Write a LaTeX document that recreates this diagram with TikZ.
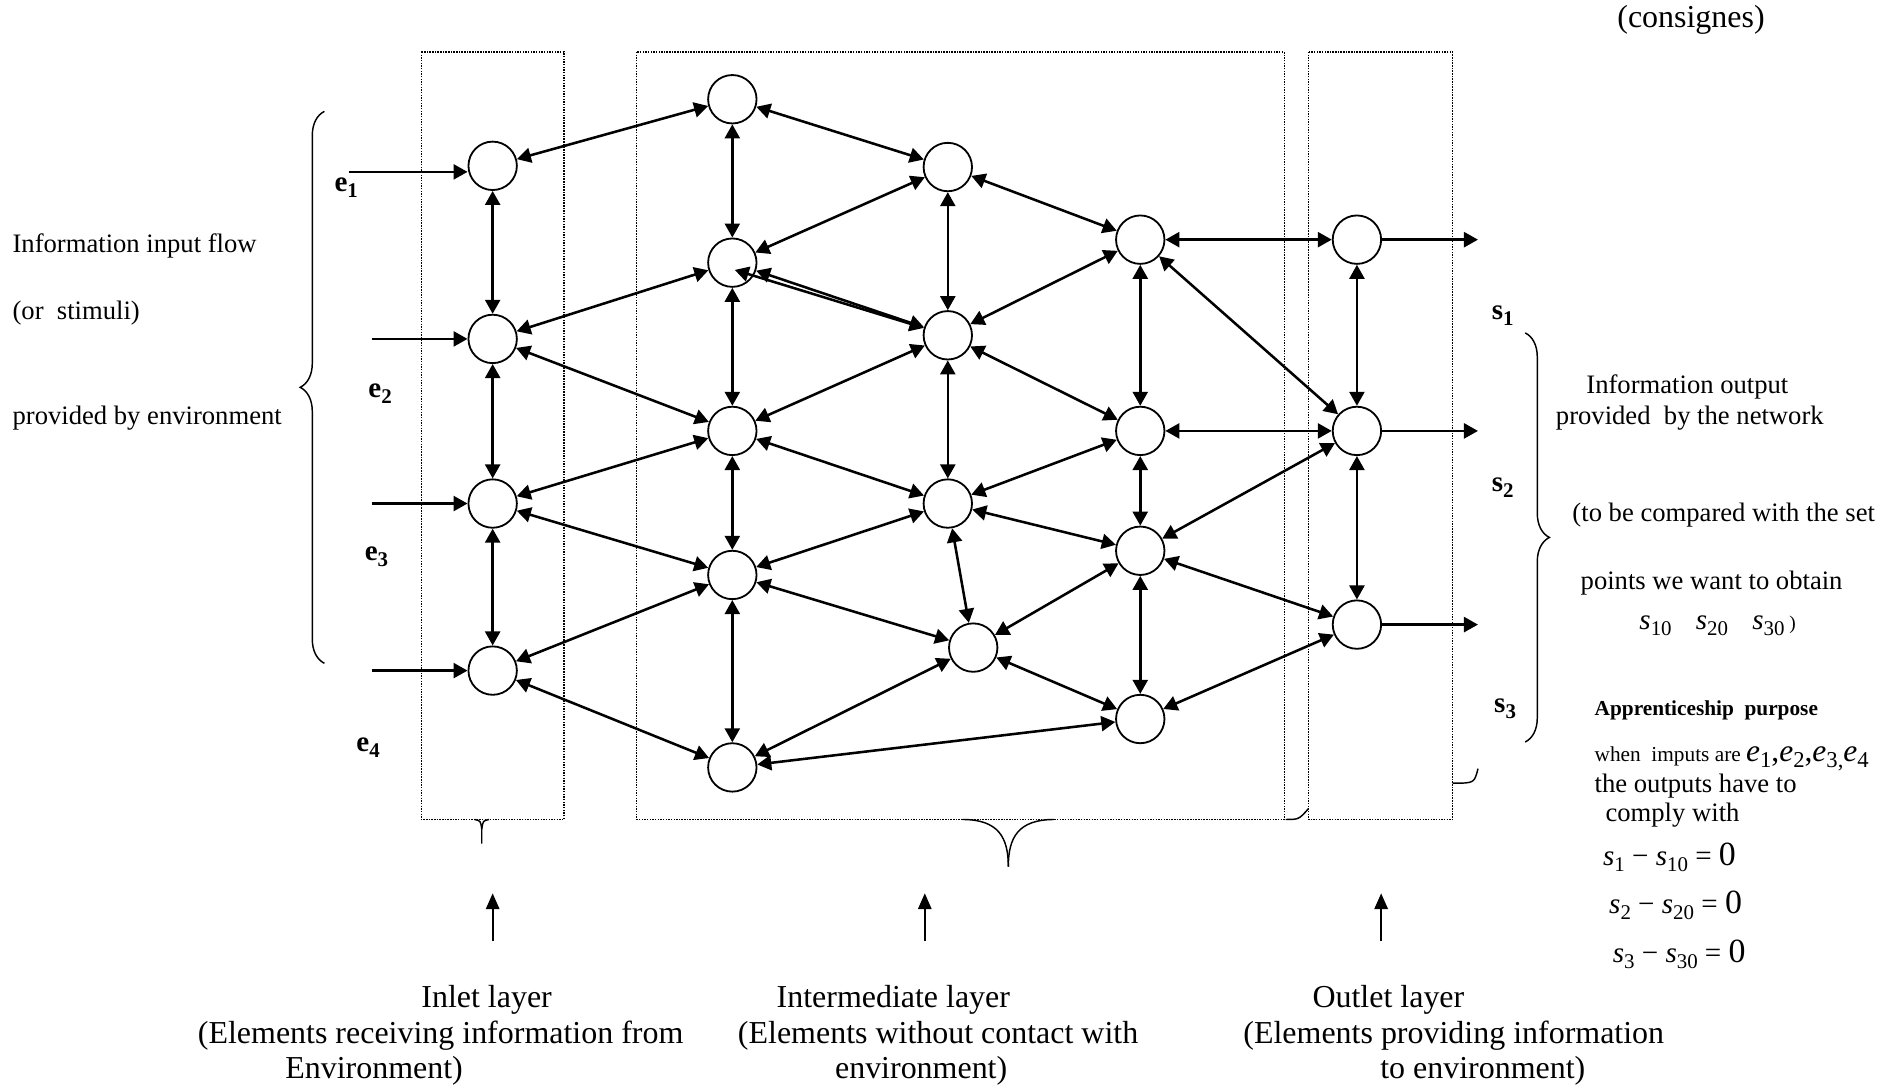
\documentclass[tikz,border=0pt]{standalone}
\usepackage{fontspec}
\setmainfont{Liberation Serif}
\usetikzlibrary{arrows.meta,decorations.pathreplacing,calc}
\newcommand\lsub[1]{\raisebox{-0.45ex}{\scalebox{0.72}{#1}}}
\begin{document}
\begin{tikzpicture}[x=0.5pt,y=-0.5pt,
  neuron/.style={circle,draw,line width=0.75pt,minimum size=20pt,inner sep=0pt},
  link/.style={line width=1.05pt,{Triangle[length=5.8pt,width=6.2pt]}-{Triangle[length=5.8pt,width=6.2pt]}},
  feed/.style={line width=1.05pt,-{Triangle[length=5.8pt,width=6.2pt]}},
  pointer/.style={line width=0.8pt,-{Triangle[length=6.5pt,width=5.5pt]}},
  layerbox/.style={draw,line width=0.6pt,dash pattern=on 0.6pt off 0.5pt},
  thinline/.style={line width=0.6pt},
  t22/.style={font=\fontsize{11}{13}\selectfont,inner sep=0pt},
  t26/.style={font=\fontsize{13.2}{15}\selectfont,inner sep=0pt},
  t17/.style={font=\fontsize{8.8}{10}\selectfont,inner sep=0pt},
  blab/.style={font=\bfseries\fontsize{12}{14}\selectfont,inner sep=0pt,anchor=base west},
  eq/.style={font=\fontsize{12}{14}\selectfont,inner sep=0pt,anchor=base west}
]
\useasboundingbox (0,0) rectangle (1568,897);

% layer boxes
\draw[layerbox] (348,43) rectangle (466,677);
\draw[layerbox] (526,43) rectangle (1061,677);
\draw[layerbox] (1081,43) rectangle (1200,677);

% neurons
\node[neuron] (i1) at (407,137) {};
\node[neuron] (i2) at (407,280) {};
\node[neuron] (i3) at (407,416) {};
\node[neuron] (i4) at (407,554) {};
\node[neuron] (a1) at (605,82) {};
\node[neuron] (a2) at (605,217) {};
\node[neuron] (a3) at (605,356) {};
\node[neuron] (a4) at (605,475) {};
\node[neuron] (a5) at (605,634) {};
\node[neuron] (b1) at (783,138) {};
\node[neuron] (b2) at (783,277) {};
\node[neuron] (b3) at (783,416) {};
\node[neuron] (b4) at (804,535) {};
\node[neuron] (c1) at (942,198) {};
\node[neuron] (c2) at (942,356) {};
\node[neuron] (c3) at (942,455) {};
\node[neuron] (c4) at (942,594) {};
\node[neuron] (o1) at (1121,198) {};
\node[neuron] (o2) at (1121,356) {};
\node[neuron] (o3) at (1121,516) {};

% links
\foreach \a/\b in {i1/i2,i2/i3,i3/i4,i1/a1,i2/a2,i2/a3,i3/a3,i3/a4,i4/a4,i4/a5,
  a1/a2,a2/a3,a3/a4,a4/a5,a1/b1,a2/b1,a2/b2,a3/b2,a3/b3,a4/b3,a4/b4,a5/b4,a5/c4,
  b1/b2,b2/b3,b3/b4,b1/c1,b2/c1,b2/c2,b3/c2,b3/c3,b4/c3,b4/c4,
  c1/c2,c2/c3,c3/c4,c1/o1,c1/o2,c2/o2,c3/o2,c3/o3,c4/o3,o1/o2,o2/o3}
  \draw[link] (\a) -- (\b);
\coordinate (a2in) at (607,223);
\draw[link] (a2in) -- (b2);

% inputs
\coordinate (e1s) at (288,142);
\coordinate (e2s) at (307,280);
\coordinate (e3s) at (307,416);
\coordinate (e4s) at (307,554);
\draw[feed] (e1s) -- (e1s -| i1.west);
\draw[feed] (e2s) -- (i2);
\draw[feed] (e3s) -- (i3);
\draw[feed] (e4s) -- (i4);

% outputs
\coordinate (s1e) at (1221,198);
\coordinate (s2e) at (1221,356);
\coordinate (s3e) at (1221,516);
\draw[feed] (o1) -- (s1e);
\draw[feed] (o2) -- (s2e);
\draw[feed] (o3) -- (s3e);

% pointers
\coordinate (p1a) at (407,777); \coordinate (p1b) at (407,738);
\coordinate (p2a) at (764,777); \coordinate (p2b) at (764,738);
\coordinate (p3a) at (1141,777); \coordinate (p3b) at (1141,738);
\draw[pointer] (p1a) -- (p1b);
\draw[pointer] (p2a) -- (p2b);
\draw[pointer] (p3a) -- (p3b);

% braces
\draw[thinline,decorate,decoration={brace,amplitude=10pt}] (268,548) -- (268,92);
\draw[thinline,decorate,decoration={brace,amplitude=10pt}] (1260,275) -- (1260,613);
\draw[thinline] (392,677) .. controls (397,678) .. (398,685) -- (398,697);
\draw[thinline] (404,677) .. controls (399,678) .. (398,685);
\draw[thinline] (795,677) .. controls (825,677) and (833,692) .. (833,716);
\draw[thinline] (871,677) .. controls (841,677) and (833,692) .. (833,716);
\draw[thinline] (1062,677) .. controls (1073,677) .. (1081,668);
\draw[thinline] (1200,647) .. controls (1218,647) .. (1221,635);

% left texts
\node[t22,anchor=base west] (lt1) at (10,209) {Information input flow};
\node[t22,anchor=base west] (lt2) at (10,264) {(or\ \ stimuli)};
\node[t22,anchor=base west] (lt3) at (10,351) {provided by environment};

% input / output labels
\node[blab] (e1l) at (276,158) {e\lsub{1}};
\node[blab] (e2l) at (304,328) {e\lsub{2}};
\node[blab] (e3l) at (301,463) {e\lsub{3}};
\node[blab] (e4l) at (294,621) {e\lsub{4}};
\node[blab] (s1l) at (1232,264) {s\lsub{1}};
\node[blab] (s2l) at (1232,406) {s\lsub{2}};
\node[blab] (s3l) at (1234,589) {s\lsub{3}};

% right texts
\node[t26,anchor=base] (cons) at (1397,23) {(consignes)};
\node[t22,anchor=base] (rt1) at (1394,325) {Information output};
\node[t22,anchor=base] (rt2) at (1396,351) {provided\ \ by the network};
\node[t22,anchor=base] (rt3) at (1424,431) {(to be compared with the set};
\node[t22,anchor=base] (rt4) at (1414,487) {points we want to obtain};
\node[eq] (rt5) at (1354,520) {\itshape s\upshape\lsub{10}\hspace{10pt}\itshape s\upshape\lsub{20}\hspace{10pt}\itshape s\upshape\lsub{30}\,{\fontsize{8}{9}\selectfont )}};
\node[t17,anchor=base west,font=\bfseries\fontsize{8.8}{10}\selectfont] (ap) at (1317,591) {Apprenticeship\ \ purpose};
\node[t17,anchor=base west] (wh) at (1317,629) {when\ \ imputs are {\fontsize{13}{15}\selectfont\itshape e\upshape\lsub{1},\itshape e\upshape\lsub{2},\itshape e\upshape\lsub{3,}\itshape e\upshape\lsub{4}}};
\node[t22,anchor=base west] (ot) at (1317,655) {the outputs have to};
\node[t22,anchor=base west] (cw) at (1326,679) {comply with};
\node[eq] (f1) at (1324,715) {\itshape s\upshape\lsub{1} − \itshape s\upshape\lsub{10} = {\fontsize{14}{16}\selectfont 0}};
\node[eq] (f2) at (1329,755) {\itshape s\upshape\lsub{2} − \itshape s\upshape\lsub{20} = {\fontsize{14}{16}\selectfont 0}};
\node[eq] (f3) at (1332,795) {\itshape s\upshape\lsub{3} − \itshape s\upshape\lsub{30} = {\fontsize{14}{16}\selectfont 0}};

% bottom captions
\node[t26,anchor=base] (c11) at (402,832) {Inlet layer};
\node[t26,anchor=base] (c12) at (364,862) {(Elements receiving information from};
\node[t26,anchor=base] (c13) at (309,891) {Environment)};
\node[t26,anchor=base] (c21) at (738,832) {Intermediate layer};
\node[t26,anchor=base] (c22) at (775,862) {(Elements without contact with};
\node[t26,anchor=base] (c23) at (761,891) {environment)};
\node[t26,anchor=base] (c31) at (1147,832) {Outlet layer};
\node[t26,anchor=base] (c32) at (1201,862) {(Elements providing information};
\node[t26,anchor=base] (c33) at (1225,891) {to environment)};
\end{tikzpicture}
\end{document}
